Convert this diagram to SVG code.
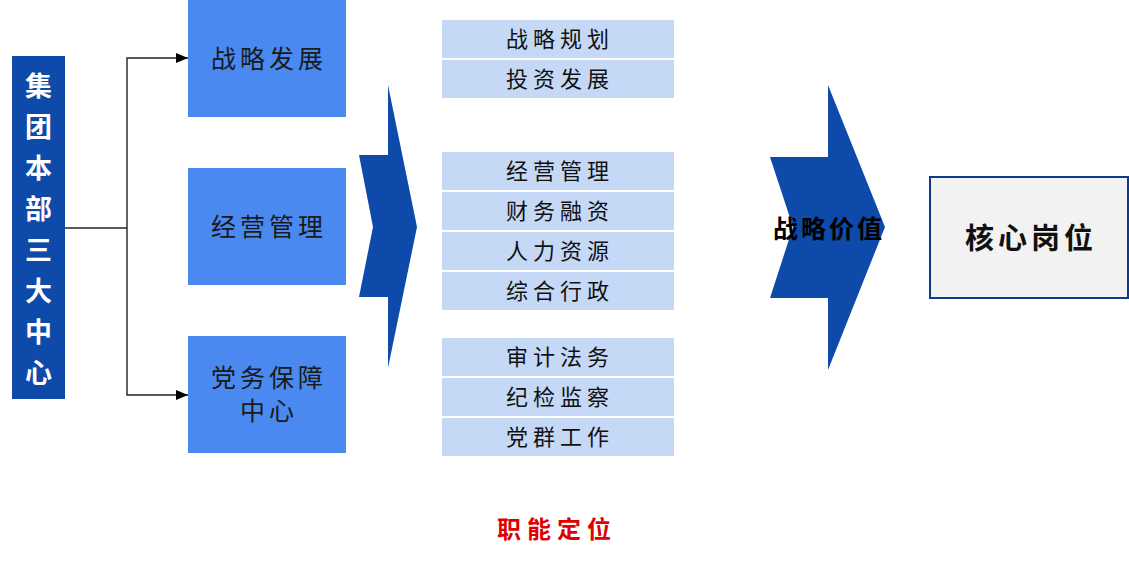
<svg xmlns="http://www.w3.org/2000/svg" width="1129" height="564" viewBox="0 0 1129 564">
<style>
text{font-family:"Noto Sans CJK SC","Noto Sans",sans-serif;text-anchor:middle;dominant-baseline:central}
.blue{fill:#4a89f0}
.lb{fill:#c5d9f7}
.bt{font-size:25px;fill:#1a1a1a;letter-spacing:4px}
.lt{font-size:22px;fill:#111;letter-spacing:5px}
.vt{font-size:27px;fill:#fff;font-weight:bold}
.chev{fill:#0d4aaa}
.conn{stroke:#222;stroke-width:1.4;fill:none}
</style>
<defs>
<marker id="ah" markerWidth="12" markerHeight="10" refX="12" refY="5" orient="auto" markerUnits="userSpaceOnUse">
<path d="M0,0 L12,5 L0,10 Z" fill="#000"/>
</marker>
</defs>
<g id="hq">
<rect x="12" y="56" width="53" height="343" fill="#0d4aaa"/>
<text class="vt" x="38.5" y="84">集</text>
<text class="vt" x="38.5" y="125">团</text>
<text class="vt" x="38.5" y="166">本</text>
<text class="vt" x="38.5" y="207">部</text>
<text class="vt" x="38.5" y="248">三</text>
<text class="vt" x="38.5" y="289">大</text>
<text class="vt" x="38.5" y="330">中</text>
<text class="vt" x="38.5" y="371">心</text>
</g>
<g id="connectors">
<path class="conn" d="M65,228 H127"/>
<path class="conn" d="M127,228 V58 H188" marker-end="url(#ah)"/>
<path class="conn" d="M127,228 V395 H188" marker-end="url(#ah)"/>
</g>
<g id="c1"><rect class="blue" x="188" y="0" width="158" height="117"/><text class="bt" x="269" y="57">战略发展</text></g>
<g id="c2"><rect class="blue" x="188" y="168" width="158" height="117"/><text class="bt" x="269" y="225">经营管理</text></g>
<g id="c3"><rect class="blue" x="188" y="336" width="158" height="117"/><text class="bt" x="269" y="376">党务保障</text><text class="bt" x="269" y="409">中心</text></g>
<g id="arrow1"><polygon class="chev" points="388,85 417,227 388,368 388,297 359,297 373,227 359,155 388,155"/></g>
<g id="functions">
<rect class="lb" x="442" y="20" width="232" height="38"/><text class="lt" x="560" y="37">战略规划</text>
<rect class="lb" x="442" y="60" width="232" height="38"/><text class="lt" x="560" y="77">投资发展</text>
<rect class="lb" x="442" y="152" width="232" height="38"/><text class="lt" x="560" y="169">经营管理</text>
<rect class="lb" x="442" y="192" width="232" height="38"/><text class="lt" x="560" y="209">财务融资</text>
<rect class="lb" x="442" y="232" width="232" height="38"/><text class="lt" x="560" y="249">人力资源</text>
<rect class="lb" x="442" y="272" width="232" height="38"/><text class="lt" x="560" y="289">综合行政</text>
<rect class="lb" x="442" y="338" width="232" height="38"/><text class="lt" x="560" y="355">审计法务</text>
<rect class="lb" x="442" y="378" width="232" height="38"/><text class="lt" x="560" y="395">纪检监察</text>
<rect class="lb" x="442" y="418" width="232" height="38"/><text class="lt" x="560" y="435">党群工作</text>
</g>
<g id="arrow2"><polygon class="chev" points="828,85 885,227 828,370 828,298 770,298 793,227 770,157 828,157"/>
<text x="829" y="227" style="font-size:25px;fill:#000;font-weight:bold;letter-spacing:3px">战略价值</text></g>
<g id="core"><rect x="930" y="177" width="198" height="121" fill="#f2f2f2" stroke="#0d3a8a" stroke-width="2"/>
<text x="1031" y="236" style="font-size:29px;fill:#111;font-weight:bold;letter-spacing:4px">核心岗位</text></g>
<text x="557" y="527" style="font-size:24px;fill:#e00000;font-weight:bold;letter-spacing:6px">职能定位</text>
</svg>
